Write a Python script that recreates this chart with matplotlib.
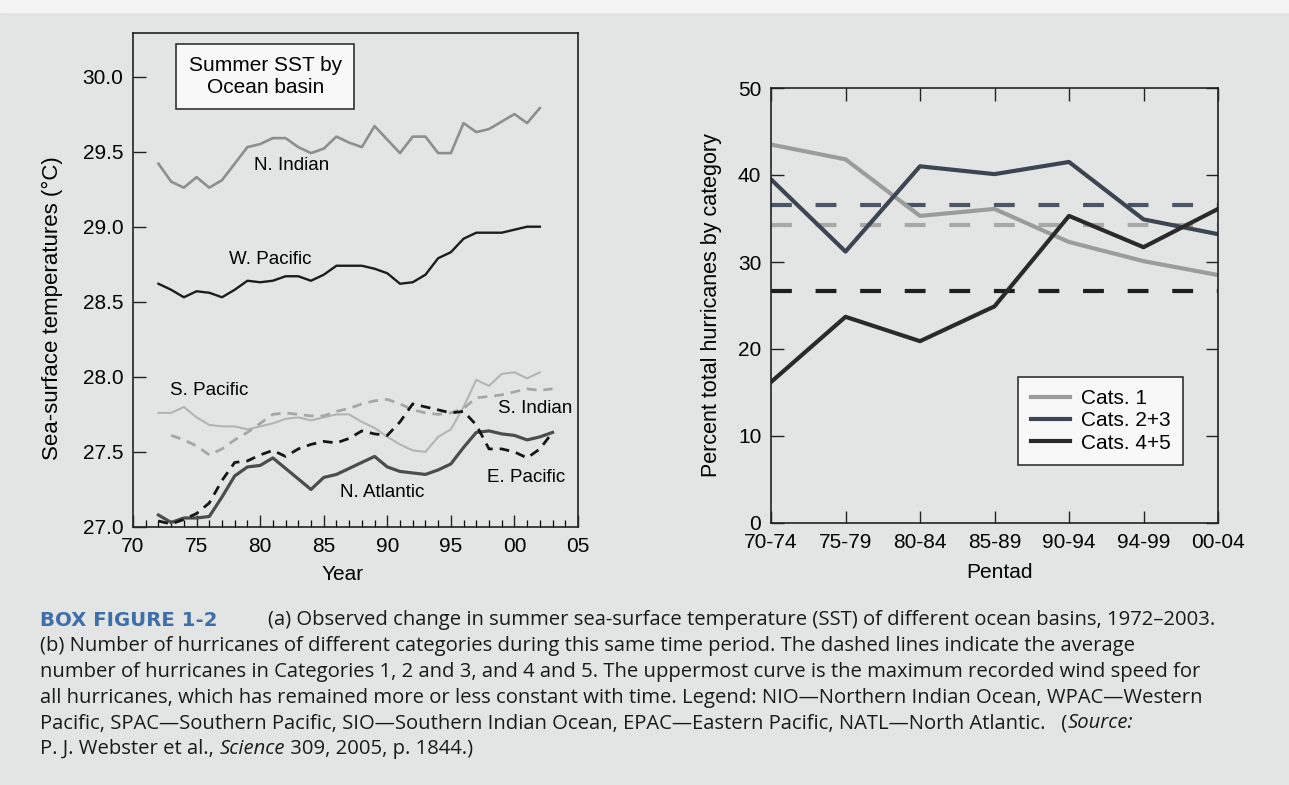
import numpy as np
import matplotlib.pyplot as plt
from matplotlib.patches import Rectangle

plt.rcParams['font.family'] = ['Liberation Sans', 'DejaVu Sans']

# Summer sea-surface temperature by basin (deg C)
years_72_02 = np.arange(1972, 2003)
years_73_03 = np.arange(1973, 2004)
years_72_03 = np.arange(1972, 2004)

n_indian = [29.42, 29.30, 29.26, 29.33, 29.26, 29.31, 29.42, 29.53, 29.55, 29.59,
            29.59, 29.53, 29.49, 29.52, 29.60, 29.56, 29.53, 29.67, 29.58, 29.49,
            29.60, 29.60, 29.49, 29.49, 29.69, 29.63, 29.65, 29.70, 29.75, 29.69, 29.79]
w_pacific = [28.62, 28.58, 28.53, 28.57, 28.56, 28.53, 28.58, 28.64, 28.63, 28.64,
             28.67, 28.67, 28.64, 28.68, 28.74, 28.74, 28.74, 28.72, 28.69, 28.62,
             28.63, 28.68, 28.79, 28.83, 28.92, 28.96, 28.96, 28.96, 28.98, 29.00, 29.00]
s_pacific = [27.76, 27.76, 27.80, 27.73, 27.68, 27.67, 27.67, 27.65, 27.67, 27.69,
             27.72, 27.73, 27.71, 27.73, 27.75, 27.75, 27.70, 27.66, 27.60, 27.55,
             27.51, 27.50, 27.60, 27.65, 27.80, 27.98, 27.94, 28.02, 28.03, 27.99, 28.03]
s_indian = [27.61, 27.58, 27.54, 27.48, 27.52, 27.58, 27.63, 27.69, 27.75, 27.76,
            27.75, 27.74, 27.74, 27.77, 27.79, 27.82, 27.84, 27.85, 27.82, 27.78,
            27.76, 27.75, 27.76, 27.79, 27.86, 27.87, 27.88, 27.90, 27.92, 27.91, 27.92]
e_pacific = [27.04, 27.02, 27.05, 27.09, 27.16, 27.31, 27.43, 27.44, 27.48, 27.51,
             27.47, 27.52, 27.55, 27.57, 27.56, 27.59, 27.64, 27.62, 27.61, 27.70,
             27.82, 27.80, 27.78, 27.76, 27.77, 27.68, 27.52, 27.52, 27.50, 27.46,
             27.52, 27.63]
n_atlantic = [27.08, 27.03, 27.06, 27.06, 27.07, 27.20, 27.34, 27.40, 27.41, 27.46,
              27.39, 27.32, 27.25, 27.33, 27.35, 27.39, 27.43, 27.47, 27.40, 27.37,
              27.36, 27.35, 27.38, 27.42, 27.53, 27.63, 27.64, 27.62, 27.61, 27.58,
              27.60, 27.63]

# Share of hurricanes by category per pentad (%)
pentads = ['70-74', '75-79', '80-84', '85-89', '90-94', '94-99', '00-04']
cats1 = [43.5, 41.8, 35.3, 36.1, 32.3, 30.1, 28.5]
cats23 = [39.5, 31.2, 41.0, 40.1, 41.5, 34.9, 33.2]
cats45 = [16.2, 23.7, 20.9, 24.9, 35.3, 31.7, 36.1]
avg_cats1, avg_cats23, avg_cats45 = 34.2, 36.5, 26.7

page = '#e3e5e5'
W, H = 1289, 785
fig = plt.figure(figsize=(W / 100, H / 100), dpi=100, facecolor=page)
fig.add_artist(Rectangle((0, 1 - 12 / H), 1, 12 / H, transform=fig.transFigure,
                         color='#f4f4f4', zorder=0))


def px_axes(l, t, r, b):
    return fig.add_axes([l / W, 1 - b / H, (r - l) / W, (b - t) / H])


# ---- (a) SST panel ----
ax1 = px_axes(133, 33, 578, 527)
ax1.set_facecolor(page)
ax1.plot(years_72_02, n_indian, color='#8e8e8e', lw=1.9)
ax1.plot(years_72_02, w_pacific, color='#1c1c1c', lw=1.7)
ax1.plot(years_72_02, s_pacific, color='#b4b4b4', lw=1.5)
ax1.plot(years_73_03, s_indian, color='#a6a6a6', lw=2.0, ls=(0, (3.5, 2.5)))
ax1.plot(years_72_03, n_atlantic, color='#4c4c4c', lw=2.3)
ax1.plot(years_72_03, e_pacific, color='#151515', lw=2.0, ls=(0, (3.5, 2.5)))

ax1.set_xlim(1970, 2005)
ax1.set_ylim(27.0, 30.29)
ax1.set_xticks(np.arange(1970, 2006, 5), ['70', '75', '80', '85', '90', '95', '00', '05'])
ax1.set_xticks(np.arange(1970, 2006), minor=True)
ax1.set_yticks(np.arange(27.0, 30.01, 0.5), ['27.0', '27.5', '28.0', '28.5', '29.0', '29.5', '30.0'])
ax1.tick_params(direction='in', labelsize=15, pad=7, width=1.0, color='#222')
ax1.tick_params(axis='x', which='major', length=9)
ax1.tick_params(axis='x', which='minor', length=5, direction='in', width=0.9)
ax1.tick_params(axis='y', length=9)

labels_a = [('N. Indian', 1982.5, 29.41), ('W. Pacific', 1980.8, 28.78),
            ('S. Pacific', 1976.0, 27.91), ('S. Indian', 2001.6, 27.79),
            ('E. Pacific', 2000.9, 27.33), ('N. Atlantic', 1989.6, 27.23)]
for name, x, y in labels_a:
    ax1.text(x, y, name, fontsize=13.5, ha='center', va='center')

ax1.text(1980.4, 30.0, 'Summer SST by\nOcean basin', fontsize=15, ha='center', va='center',
         linespacing=1.15,
         bbox=dict(boxstyle='square,pad=0.6', facecolor='#f8f8f8', edgecolor='#222', lw=1.1))

fig.text(343 / W, 1 - 575 / H, 'Year', fontsize=15, ha='center', va='center')
fig.text(52 / W, 1 - 308 / H, 'Sea-surface temperatures (°C)', fontsize=16,
         rotation=90, ha='center', va='center')

# ---- (b) hurricane category panel ----
ax2 = px_axes(771, 88, 1218, 523)
ax2.set_facecolor(page)
x = np.arange(len(pentads))
c1, c23, c45 = '#9c9c9c', '#3d4452', '#2a2a2a'
dash = (0, (5, 5.7))
ax2.plot(x, [avg_cats23] * len(x), color='#4b5566', lw=3, ls=dash)
ax2.plot(x, [avg_cats1] * len(x), color='#a8a8a8', lw=3, ls=dash)
ax2.plot(x, [avg_cats45] * len(x), color='#1e1e1e', lw=3, ls=dash)
ax2.plot(x, cats1, color=c1, lw=3, label='Cats. 1')
ax2.plot(x, cats23, color=c23, lw=3, label='Cats. 2+3')
ax2.plot(x, cats45, color=c45, lw=3, label='Cats. 4+5')

ax2.set_xlim(0, len(pentads) - 1)
ax2.set_ylim(0, 50)
ax2.set_xticks(x, pentads)
ax2.set_yticks(np.arange(0, 51, 10))
ax2.tick_params(direction='in', labelsize=15, pad=7, length=9, width=1.0, color='#222',
                top=True, right=True)

leg = ax2.legend(loc='upper right', bbox_to_anchor=(0.922, 0.336), borderaxespad=0,
                 fontsize=15, frameon=True, fancybox=False, handlelength=1.9,
                 handletextpad=0.5, labelspacing=0.15, borderpad=0.6)
leg.get_frame().set_facecolor('#f8f8f8')
leg.get_frame().set_edgecolor('#222')
leg.get_frame().set_linewidth(1.1)
leg.get_frame().set_alpha(1)

fig.text(1000 / W, 1 - 572 / H, 'Pentad', fontsize=15, ha='center', va='center')
fig.text(712 / W, 1 - 305 / H, 'Percent total hurricanes by category', fontsize=15.5,
         rotation=90, ha='center', va='center')

for ax in (ax1, ax2):
    for s in ax.spines.values():
        s.set_linewidth(1.2)
        s.set_color('#222')

# ---- caption ----
cap_font = ['Open Sans', 'DejaVu Sans']
cap_size = 14.6
renderer = fig.canvas.get_renderer()


def caption_line(x_px, y_px, runs, size=cap_size, family=cap_font):
    xf = x_px / W
    for s, style, weight, color in runs:
        t = fig.text(xf, 1 - y_px / H, s, fontsize=size, family=family,
                     style=style, weight=weight, color=color, va='center')
        xf = t.get_window_extent(renderer=renderer).x1 / W


ink = '#1a1a1a'
caption_line(40, 620, [('BOX FIGURE 1-2', 'normal', 'bold', '#3f6fa8')],
             size=14.2, family=['DejaVu Sans'])
caption_line(268, 620, [('(a) Observed change in summer sea-surface temperature (SST) of different ocean basins, 1972–2003.', 'normal', 'normal', ink)])
caption_line(40, 646, [('(b) Number of hurricanes of different categories during this same time period. The dashed lines indicate the average', 'normal', 'normal', ink)])
caption_line(40, 672, [('number of hurricanes in Categories 1, 2 and 3, and 4 and 5. The uppermost curve is the maximum recorded wind speed for', 'normal', 'normal', ink)])
caption_line(40, 698, [('all hurricanes, which has remained more or less constant with time. Legend: NIO—Northern Indian Ocean, WPAC—Western', 'normal', 'normal', ink)])
caption_line(40, 723, [('Pacific, SPAC—Southern Pacific, SIO—Southern Indian Ocean, EPAC—Eastern Pacific, NATL—North Atlantic.   (', 'normal', 'normal', ink),
                       ('Source:', 'italic', 'normal', ink)])
caption_line(40, 749, [('P. J. Webster et al., ', 'normal', 'normal', ink),
                       ('Science', 'italic', 'normal', ink),
                       (' 309, 2005, p. 1844.)', 'normal', 'normal', ink)])

fig.savefig('out.png', dpi=100, facecolor=page)
